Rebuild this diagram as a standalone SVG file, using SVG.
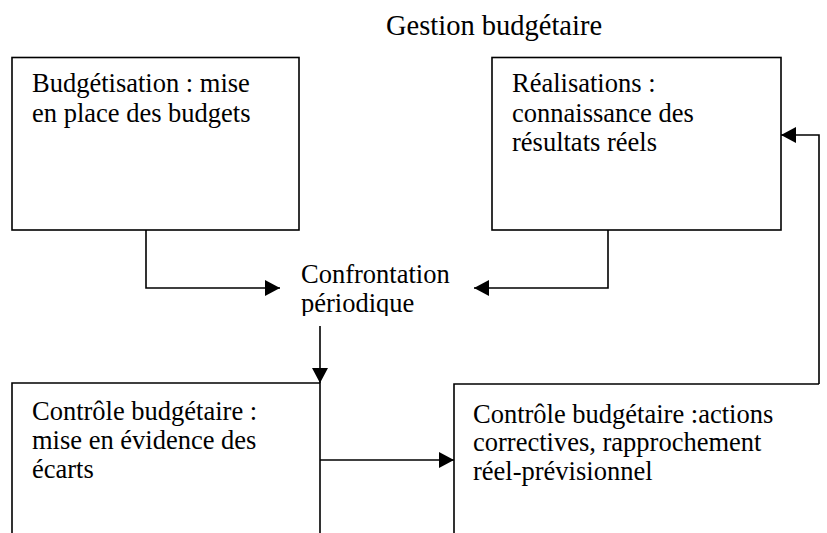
<svg xmlns="http://www.w3.org/2000/svg" width="827" height="533" viewBox="0 0 827 533">
  <defs>
    <style>
      .box { fill: #fff; stroke: #000; stroke-width: 1.6; }
      .open { fill: none; stroke: #000; stroke-width: 1.6; }
      .conn { fill: none; stroke: #000; stroke-width: 1.6; }
      .t { font-family: "Liberation Serif", "Times New Roman", serif; font-size: 26.5px; fill: #000; }
      .title { font-family: "Liberation Serif", "Times New Roman", serif; font-size: 28.5px; fill: #000; }
    </style>
    <marker id="arrow" markerUnits="userSpaceOnUse" markerWidth="16" markerHeight="16" viewBox="0 0 16 16" refX="15" refY="8" orient="auto">
      <path d="M0,0 L15,8 L0,16 Z" fill="#000"/>
    </marker>
    <clipPath id="cutText">
      <rect x="0" y="0" width="827" height="316"/>
    </clipPath>
  </defs>
  <rect width="827" height="533" fill="#fff"/>

  <text class="title" x="386" y="35">Gestion budgétaire</text>

  <g id="budgetisation">
    <rect class="box" x="12" y="57.5" width="287" height="172.5"/>
    <text class="t" x="32" y="92">Budgétisation : mise</text>
    <text class="t" x="32" y="122">en place des budgets</text>
  </g>

  <g id="realisations">
    <rect class="box" x="492" y="57.5" width="289" height="172.5"/>
    <text class="t" x="512" y="92">Réalisations :</text>
    <text class="t" x="512" y="122">connaissance des</text>
    <text class="t" x="512" y="151">résultats réels</text>
  </g>

  <g id="confrontation" clip-path="url(#cutText)">
    <text class="t" x="301" y="283">Confrontation</text>
    <text class="t" x="301" y="312">périodique</text>
  </g>

  <g id="controle-ecarts">
    <path class="open" d="M12,534 V383 H320 V534"/>
    <text class="t" x="32" y="420">Contrôle budgétaire :</text>
    <text class="t" x="32" y="449">mise en évidence des</text>
    <text class="t" x="32" y="478">écarts</text>
  </g>

  <g id="controle-actions">
    <path class="open" d="M454,534 V384 H819"/>
    <text class="t" x="473" y="423">Contrôle budgétaire :actions</text>
    <text class="t" x="473" y="451">correctives, rapprochement</text>
    <text class="t" x="473" y="480">réel-prévisionnel</text>
  </g>

  <g id="connectors">
    <path class="conn" d="M146,230 V288 H280" marker-end="url(#arrow)"/>
    <path class="conn" d="M608,230 V288 H474" marker-end="url(#arrow)"/>
    <path class="conn" d="M320,326 V383" marker-end="url(#arrow)"/>
    <path class="conn" d="M320,460 H454" marker-end="url(#arrow)"/>
    <path class="conn" d="M819,384 V135 H781" marker-end="url(#arrow)"/>
  </g>
</svg>
